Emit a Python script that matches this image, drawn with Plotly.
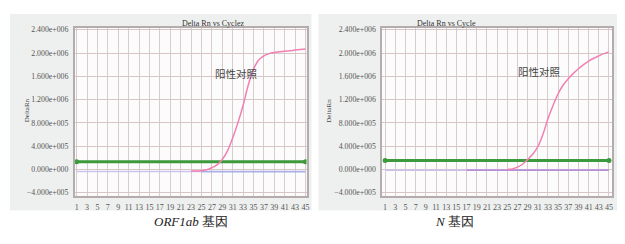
import plotly.graph_objects as go

# ---------------- data ----------------
cycle_ticks = list(range(1, 46, 2))
y_ticks = [-400000, 0, 400000, 800000, 1200000, 1600000, 2000000, 2400000]
y_tick_labels = ["\u22124.000e+005", "0.000e+000", "4.000e+005", "8.000e+005",
                 "1.200e+006", "1.600e+006", "2.000e+006", "2.400e+006"]

# ORF1ab (left)
orf_pos_cycles = list(range(23, 46))
orf_pos_values = [-20000, -25000, -20000, -5000, 30000, 80000, 170000, 320000, 540000,
                  800000, 1100000, 1450000, 1720000, 1880000, 1950000, 1990000, 2010000,
                  2020000, 2030000, 2040000, 2050000, 2060000, 2070000]
orf_threshold_cycles = [1, 45]
orf_threshold_values = [133000, 133000]
orf_neg_cycles = [1, 10, 20, 25]
orf_neg_values = [-35000, -35000, -35000, -35000]
orf_neg2_cycles = [25, 35, 45]
orf_neg2_values = [-38000, -38000, -38000]

# N gene (right)
n_pos_cycles = list(range(25, 46))
n_pos_values = [0, 10000, 40000, 90000, 170000, 260000, 390000, 600000, 870000,
                1100000, 1300000, 1450000, 1560000, 1650000, 1730000, 1800000,
                1860000, 1910000, 1950000, 1990000, 2020000]
n_threshold_cycles = [1, 45]
n_threshold_values = [155000, 155000]
n_neg_cycles = [1, 10, 17]
n_neg_values = [-12000, -12000, -12000]
n_neg2_cycles = [17, 30, 45]
n_neg2_values = [-12000, -12000, -12000]

titles = ["Delta Rn vs Cyclez", "Delta Rn vs Cycle"]
captions = ["<i>ORF1ab</i> 基因", "<i>N</i> 基因"]
label_text = "阳性对照"

# ---------------- figure ----------------
# the page body adds an 8px offset, so the figure is 8px smaller and coordinates are shifted
OFF = 8
W, H = 625 - OFF, 244 - OFF
def px(x):
    return (x - OFF) / W
def py(y):
    return 1 - (y - OFF) / H

PINK = "#f27fb2"
GREEN = "#3c9a3c"
SERIF = "Liberation Serif, DejaVu Serif, serif"

fig = go.Figure()

def add_panel(i, pos_c, pos_v, thr_c, thr_v, neg_c, neg_v, neg2_c, neg2_v, neg_col, neg2_col):
    xa = "x" if i == 0 else "x2"
    ya = "y" if i == 0 else "y2"
    fig.add_trace(go.Scatter(x=neg_c, y=neg_v, mode="lines", xaxis=xa, yaxis=ya,
                             line=dict(color=neg_col, width=1.5), showlegend=False))
    fig.add_trace(go.Scatter(x=neg2_c, y=neg2_v, mode="lines", xaxis=xa, yaxis=ya,
                             line=dict(color=neg2_col, width=1.8), showlegend=False))
    fig.add_trace(go.Scatter(x=thr_c, y=thr_v, mode="lines+markers", xaxis=xa, yaxis=ya,
                             line=dict(color=GREEN, width=3),
                             marker=dict(color=GREEN, size=5), showlegend=False))
    fig.add_trace(go.Scatter(x=pos_c, y=pos_v, mode="lines", xaxis=xa, yaxis=ya,
                             line=dict(color=PINK, width=1.5, shape="spline"), showlegend=False))

add_panel(0, orf_pos_cycles, orf_pos_values, orf_threshold_cycles, orf_threshold_values,
          orf_neg_cycles, orf_neg_values, orf_neg2_cycles, orf_neg2_values, "#c9c4ec", "#a9b0e6")
add_panel(1, n_pos_cycles, n_pos_values, n_threshold_cycles, n_threshold_values,
          n_neg_cycles, n_neg_values, n_neg2_cycles, n_neg2_values, "#cdbfea", "#b78ed8")

yrange = [-452000, 2435000]
common_x = dict(tickmode="array", tickvals=cycle_ticks, ticktext=[str(t) for t in cycle_ticks],
                showgrid=True, gridcolor="#d9cccc", gridwidth=1, zeroline=False,
                showline=True, linecolor="#b5adad", linewidth=1.5, mirror=True,
                ticks="outside", ticklen=3, tickcolor="rgba(0,0,0,0)",
                tickfont=dict(family=SERIF, size=8, color="#555555"))
common_y = dict(tickmode="array", tickvals=y_ticks, ticktext=y_tick_labels, range=yrange,
                showgrid=True, gridcolor="#d6c6c6", gridwidth=1, zeroline=False,
                showline=True, linecolor="#b5adad", linewidth=1.5, mirror=True,
                ticks="outside", ticklen=3, tickcolor="rgba(0,0,0,0)",
                tickfont=dict(family=SERIF, size=7.8, color="#555555"))

panel_shapes = []
for x0, x1 in [(10, 313), (320, 625)]:
    panel_shapes.append(dict(type="rect", xref="paper", yref="paper", x0=px(x0), x1=px(x1),
                             y0=py(212), y1=py(12), fillcolor="#eef0ef",
                             line=dict(width=0), layer="below"))
for x0, x1 in [(75, 308), (384, 615)]:
    panel_shapes.append(dict(type="rect", xref="paper", yref="paper", x0=px(x0), x1=px(x1),
                             y0=py(197), y1=py(26), fillcolor="#fcfcfc",
                             line=dict(width=0), layer="below"))

fig.update_layout(
    width=W, height=H, margin=dict(l=0, r=0, t=0, b=0),
    paper_bgcolor="white", plot_bgcolor="rgba(0,0,0,0)",
    xaxis=dict(domain=[px(75), px(308)], range=[0.62, 45.2], anchor="y", **common_x),
    yaxis=dict(domain=[py(197), py(26)], anchor="x", **common_y),
    xaxis2=dict(domain=[px(384), px(615)], range=[0.42, 45.6], anchor="y2", **common_x),
    yaxis2=dict(domain=[py(197), py(26)], anchor="x2", **common_y),
    shapes=panel_shapes,
)

ann = []
for cx, t in zip([181, 480], titles):
    ann.append(dict(x=px(cx), y=py(15), xref="paper", yref="paper", text=t, showarrow=False,
                    font=dict(family=SERIF, size=8, color="#333333")))
for cx, t in zip([153, 478], captions):
    ann.append(dict(x=px(cx), y=py(233), xref="paper", yref="paper", text=t, showarrow=False,
                    font=dict(family=SERIF, size=13, color="#222222")))
for cx in [21, 331]:
    ann.append(dict(x=px(cx), y=py(110), xref="paper", yref="paper", text="DeltaRn",
                    textangle=-90, showarrow=False,
                    font=dict(family=SERIF, size=7, color="#444444")))
for cx, cy in [(238, 63), (566, 61)]:
    ann.append(dict(x=px(cx), y=py(cy), xref="paper", yref="paper", text=label_text,
                    showarrow=False,
                    font=dict(family="Noto Sans CJK SC", size=10.5, color="#444444")))
fig.update_layout(annotations=ann)

fig.write_html("out.html")
